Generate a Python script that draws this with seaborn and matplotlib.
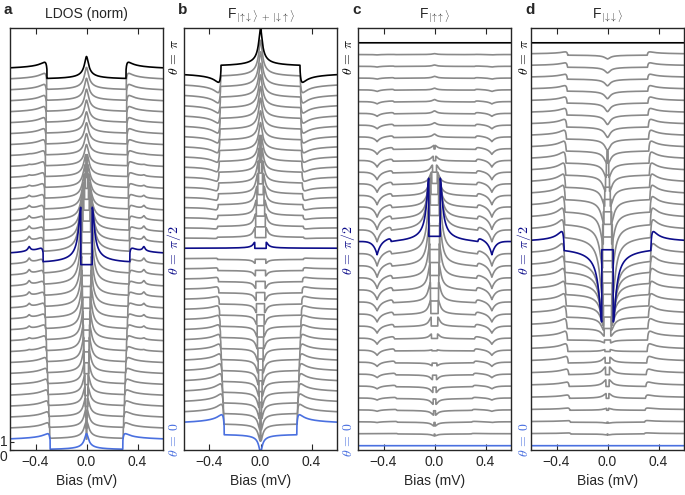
import numpy as np
import pandas as pd
import matplotlib
matplotlib.use('Agg')
import matplotlib.pyplot as plt
import seaborn as sns

# bias axis of the calculation (mV); curve k has theta = k*pi/34
bias = np.linspace(-0.6, 0.6, 2401)
n_theta = 35

# bound state energy (mV) and gap edge (mV) for each theta
eps = [0.000, 0.003, 0.005, 0.008, 0.011, 0.013, 0.016, 0.019, 0.021, 0.024, 0.026, 0.029, 0.032, 0.034, 0.037, 0.040, 0.042, 0.045,
       0.042, 0.038, 0.033, 0.028, 0.022, 0.016, 0.010, 0.005, 0.000, 0.000, 0.000, 0.000, 0.000, 0.000, 0.000, 0.000, 0.000]
gap = [0.285, 0.288, 0.291, 0.295, 0.298, 0.301, 0.304, 0.308, 0.311, 0.314, 0.317, 0.321, 0.324, 0.327, 0.330, 0.334, 0.337, 0.340,
       0.338, 0.336, 0.334, 0.332, 0.330, 0.328, 0.326, 0.324, 0.322, 0.320, 0.318, 0.317, 0.316, 0.315, 0.314, 0.312, 0.310]

# panel a: LDOS (normalised)
ldos_coh = [0.90, 0.90, 0.90, 0.90, 0.90, 0.88, 0.86, 0.84, 0.82, 0.80, 0.78, 0.76, 0.74, 0.72, 0.70, 0.68, 0.66, 0.65,
            0.66, 0.68, 0.70, 0.72, 0.74, 0.76, 0.78, 0.80, 0.82, 0.84, 0.86, 0.88, 0.90, 0.92, 0.94, 0.96, 0.98]
ldos_spike = [0, 0, 0, 0, 0, 0, 0, 0, 0.10, 0.20, 0.30, 0.35, 0.40, 0.45, 0.50, 0.50, 0.55, 0.60,
              0.55, 0.50, 0.45, 0.40, 0.30, 0.20, 0.15, 0.10, 0.05, 0, 0, 0, 0, 0, 0, 0, 0]
ldos_abs = [2.0, 2.1, 2.2, 2.3, 2.4, 2.5, 2.7, 2.9, 3.1, 3.3, 3.6, 3.9, 4.2, 4.6, 5.0, 5.6, 6.3, 7.0,
            6.0, 5.1, 4.4, 3.8, 3.4, 3.1, 2.9, 2.8, 2.7, 2.7, 2.7, 2.7, 2.8, 2.8, 2.8, 2.8, 2.8]

# panel b: F |ud> + |du>
fb_coh = [1.20, 1.19, 1.18, 1.15, 1.11, 1.06, 1.00, 0.93, 0.85, 0.76, 0.66, 0.56, 0.46, 0.36, 0.26, 0.17, 0.08, 0.00,
          -0.10, -0.20, -0.30, -0.40, -0.50, -0.60, -0.70, -0.80, -0.90, -1.00, -1.07, -1.13, -1.18, -1.22, -1.26, -1.28, -1.30]
fb_floor = [-0.80, -0.79, -0.78, -0.76, -0.74, -0.71, -0.67, -0.62, -0.57, -0.51, -0.44, -0.37, -0.31, -0.24, -0.17, -0.11, -0.05, 0.00,
            0.03, 0.06, 0.09, 0.12, 0.15, 0.18, 0.21, 0.24, 0.27, 0.30, 0.32, 0.34, 0.36, 0.37, 0.38, 0.39, 0.40]
fb_abs = [-1.8, -1.75, -1.7, -1.65, -1.6, -1.55, -1.5, -1.4, -1.3, -1.2, -1.1, -1.0, -0.9, -0.8, -0.7, -0.55, -0.4, 0.6,
          1.0, 1.3, 1.6, 1.9, 2.1, 2.3, 2.5, 2.7, 2.9, 3.0, 3.2, 3.3, 3.4, 3.5, 3.6, 3.7, 3.8]

# panel c: F |uu>
fc_dip = [0, 0, -0.08, -0.15, -0.22, -0.30, -0.38, -0.45, -0.55, -0.65, -0.75, -0.85, -0.95, -1.05, -1.15, -1.25, -1.35, -1.45,
          -1.30, -1.20, -1.10, -1.00, -0.90, -0.80, -0.70, -0.60, -0.50, -0.40, -0.32, -0.25, -0.18, -0.12, -0.08, -0.04, 0]
fc_coh = [0, 0.05, 0.08, 0.10, 0.12, 0.14, 0.16, 0.18, 0.20, 0.22, 0.24, 0.26, 0.28, 0.30, 0.30, 0.30, 0.30, 0.30,
          0.30, 0.30, 0.28, 0.26, 0.24, 0.22, 0.20, 0.18, 0.16, 0.14, 0.12, 0.10, 0.08, 0.06, 0.04, 0.02, 0]
fc_abs = [0, -0.2, -0.4, -0.5, -0.6, -0.6, -0.5, -0.3, 0.1, 0.5, 1.0, 1.5, 2.1, 2.8, 3.6, 4.5, 5.5, 6.6,
          5.5, 4.2, 3.0, 2.0, 1.3, 0.8, 0.5, 0.4, 0.35, 0.3, 0.3, 0.25, 0.2, 0.2, 0.15, 0.1, 0]

# panel d: F |dd>
fd_coh = [0, 0.1, 0.15, 0.2, 0.3, 0.4, 0.5, 0.6, 0.7, 0.8, 0.9, 1.0, 1.1, 1.2, 1.35, 1.45, 1.6, 1.7,
          1.6, 1.5, 1.4, 1.3, 1.2, 1.1, 1.0, 0.9, 0.8, 0.7, 0.6, 0.55, 0.5, 0.45, 0.4, 0.3, 0]
fd_abs = [0, -0.1, -0.1, 0.2, 0.5, 0.7, 0.8, 0.6, 0.2, -0.3, -0.8, -1.4, -2.1, -2.9, -3.8, -4.9, -6.2, -7.6,
          -6.0, -4.6, -3.4, -2.6, -2.0, -1.7, -1.5, -1.3, -1.2, -1.1, -1.0, -0.9, -0.8, -0.7, -0.6, -0.4, 0]
zeros = [0] * n_theta


def curve(k, coh, floor, dip, spike, abs_h, g, box, normal=0.0):
    e = np.abs(bias)
    x = np.clip(e - gap[k], 0, None)
    shape = 0.06 / np.sqrt(0.0036 + 2 * gap[k] * x) * (1 - np.exp(-x / 0.012))
    shape = shape / shape.max()
    y = np.where(e > gap[k], normal + coh * shape, floor)
    y = y + dip * np.exp(-np.abs(e - 0.45) / 0.03)
    y = y + spike * 0.008 / np.sqrt(0.008 ** 2 + (e - 0.45) ** 2)
    xb = e - eps[k]
    y = y + np.where(xb >= 0, abs_h * g / np.sqrt(g * g + xb * xb), box * abs_h)
    return y


def panel_frame(coh, floor, dip, spike, abs_h, g, box, base, step, normal=0.0):
    rows = []
    for k in range(n_theta):
        y = curve(k, coh[k], floor[k], dip[k], spike[k], abs_h[k], g, box, normal)
        rows.append(pd.DataFrame({'bias': bias, 'signal': y + base + k * step, 'k': str(k)}))
    return pd.concat(rows, ignore_index=True)


fd_floor = [-0.1 * v for v in fd_coh]
panels = [
    ('a', 'LDOS (norm)', panel_frame(ldos_coh, zeros, zeros, ldos_spike, ldos_abs, 0.014, 0.0, 0.0, 1.33, normal=1.0), 51.5),
    ('b', r'F$_{|\!\uparrow\!\downarrow\rangle\;+\;|\!\downarrow\!\uparrow\rangle}$',
     panel_frame(fb_coh, fb_floor, zeros, zeros, fb_abs, 0.012, 0.0, 2.4, 1.045), 42.2),
    ('c', r'F$_{|\!\uparrow\!\uparrow\rangle}$', panel_frame(fc_coh, zeros, fc_dip, zeros, fc_abs, 0.014, 0.12, 0.43, 1.185), 42.2),
    ('d', r'F$_{|\!\downarrow\!\downarrow\rangle}$', panel_frame(fd_coh, fd_floor, zeros, zeros, fd_abs, 0.018, 0.05, 0.43, 1.185), 42.2),
]

grey = '#8a8a8a'
navy = '#0d0d8a'
light = '#4a70e0'
palette = {str(k): grey for k in range(n_theta)}
palette['34'] = 'black'
palette['17'] = navy
palette['0'] = light
order = [str(k) for k in range(n_theta) if k not in (0, 17, 34)] + ['34', '17', '0']

sns.set_style('ticks')
plt.rcParams['font.family'] = ['Liberation Sans', 'DejaVu Sans']
plt.rcParams['mathtext.fontset'] = 'cm'

fig = plt.figure(figsize=(6.85, 4.95), dpi=100)
lefts = [10, 184, 358, 531]
for (letter, title, df, top), left in zip(panels, lefts):
    ax = fig.add_axes([left / 685, 45 / 495, 153 / 685, 422 / 495])
    sns.lineplot(data=df, x='bias', y='signal', hue='k', hue_order=order, palette=palette,
                 estimator=None, sort=False, legend=False, linewidth=1.2, ax=ax)
    ax.set_xlim(-0.6, 0.6)
    ax.set_ylim(0, top)
    ax.set_xticks([-0.4, 0.0, 0.4])
    ax.set_xticklabels(['\u22120.4', '0.0', '0.4'])
    ax.set_xlabel('Bias (mV)', fontsize=10)
    ax.set_ylabel('')
    ax.tick_params(axis='x', direction='in', top=True, length=4, labelsize=10)
    if letter == 'a':
        ax.set_yticks([0, 1])
        ax.tick_params(axis='y', direction='in', length=3, labelsize=10, pad=2)
        ylabels = ax.get_yticklabels()
        ylabels[0].set_va('top')
        ylabels[1].set_va('center')
    else:
        ax.set_yticks([])
    for s in ax.spines.values():
        s.set_linewidth(1.0)
    ax.set_title(title, fontsize=10, pad=7)
    fig.text((left - 6) / 685, 1 - 10 / 495, letter, fontsize=11, fontweight='bold', va='center', ha='left')

# theta labels in the gaps left of panels b, c, d
for xpx in [174, 348, 524]:
    fig.text(xpx / 685, 1 - 57 / 495, r'$\theta\,=\,\pi$', color='black', rotation=90, ha='center', va='center', fontsize=10)
    fig.text(xpx / 685, 1 - 250 / 495, r'$\theta\,=\,\pi/2$', color=navy, rotation=90, ha='center', va='center', fontsize=10)
    fig.text(xpx / 685, 1 - 440 / 495, r'$\theta\,=\,0$', color=light, rotation=90, ha='center', va='center', fontsize=10)

fig.savefig('out.png', dpi=100)
